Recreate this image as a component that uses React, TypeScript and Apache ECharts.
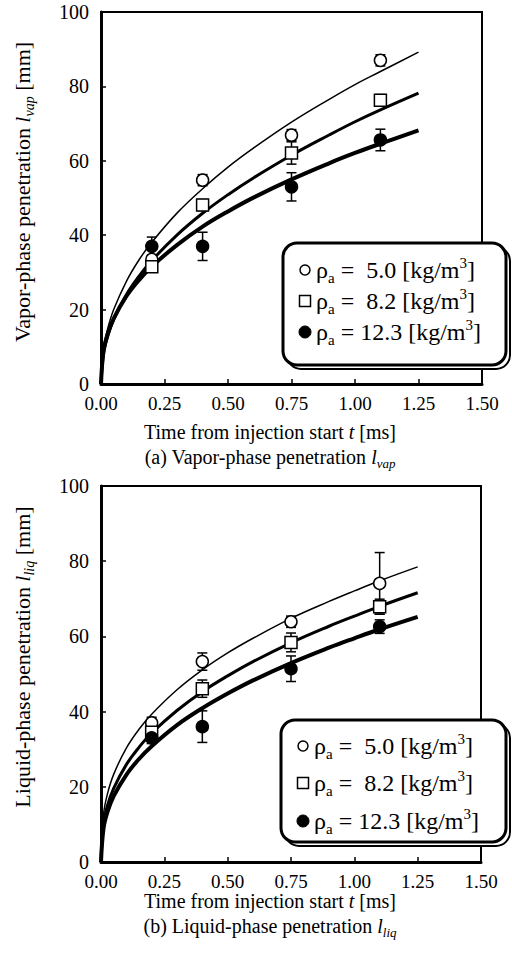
import React, { useEffect, useRef } from "react";
import * as echarts from "echarts";

// ---------- data ----------
const X_MIN = 0;
const X_MAX = 1.5;
const X_STEP = 0.25;
const Y_MIN = 0;
const Y_MAX = 100;
const Y_STEP = 20;

// fitted curves: time [ms] vs penetration [mm]
const T_FIT = [0, 0.01, 0.025, 0.05, 0.1, 0.15, 0.2, 0.3, 0.4, 0.5, 0.6, 0.75, 0.9, 1.0, 1.1, 1.25];
const VAP_FIT_50 = [0, 9.5, 14.5, 20.0, 27.6, 33.4, 38.1, 46.0, 52.5, 58.3, 63.4, 70.4, 76.6, 80.5, 84.0, 89.2];
const VAP_FIT_82 = [0, 8.1, 12.5, 17.4, 24.0, 29.0, 33.2, 40.1, 45.9, 50.9, 55.4, 61.5, 67.0, 70.5, 73.7, 78.2];
const VAP_FIT_123 = [0, 9.0, 13.2, 17.6, 23.6, 28.0, 31.6, 37.4, 42.3, 46.4, 50.1, 55.0, 59.4, 62.1, 64.6, 68.2];
const LIQ_FIT_50 = [0, 12.7, 18.0, 23.3, 30.3, 35.3, 39.3, 45.8, 51.1, 55.6, 59.5, 64.8, 69.3, 72.1, 74.8, 78.5];
const LIQ_FIT_82 = [0, 10.3, 14.9, 19.6, 25.9, 30.5, 34.3, 40.3, 45.3, 49.5, 53.3, 58.3, 62.7, 65.4, 68.0, 71.6];
const LIQ_FIT_123 = [0, 9.0, 13.2, 17.5, 23.2, 27.4, 30.8, 36.4, 40.9, 44.8, 48.3, 52.9, 57.0, 59.5, 61.9, 65.2];

// measured points with error bars
const T_MEAS = [0.2, 0.4, 0.75, 1.1];
const VAP_50 = [33.5, 54.8, 66.9, 87.0];
const VAP_50_ERR = [1.0, 1.5, 1.5, 1.5];
const VAP_82 = [31.5, 48.1, 62.1, 76.3];
const VAP_82_ERR = [1.0, 1.5, 3.0, 1.5];
const VAP_123 = [37.0, 37.0, 53.0, 65.6];
const VAP_123_ERR = [2.5, 3.8, 3.8, 2.9];
const LIQ_50 = [37.0, 53.3, 63.9, 74.1];
const LIQ_50_ERR = [1.5, 2.3, 1.5, 8.2];
const LIQ_82 = [34.5, 46.1, 58.4, 67.9];
const LIQ_82_ERR = [1.5, 2.3, 2.5, 2.0];
const LIQ_123 = [33.0, 36.0, 51.4, 62.6];
const LIQ_123_ERR = [1.5, 4.2, 3.4, 1.8];

const LEGEND_VALUES = [" 5.0", " 8.2", "12.3"];
const FONT = "'Liberation Serif', 'DejaVu Serif', 'Times New Roman', serif";

const pairs = (xs: number[], ys: number[]) => xs.map((x, i) => [x, ys[i]]);
const errs = (xs: number[], ys: number[], es: number[]) =>
  xs.map((x, i) => [x, ys[i] - es[i], ys[i] + es[i]]);

const errRender = (params: any, api: any) => {
  const x = api.value(0);
  const lo = api.coord([x, api.value(1)]);
  const hi = api.coord([x, api.value(2)]);
  const w = 5;
  const st = { stroke: "#000", lineWidth: 1.5 };
  return {
    type: "group",
    children: [
      { type: "line", shape: { x1: hi[0], y1: hi[1], x2: lo[0], y2: lo[1] }, style: st },
      { type: "line", shape: { x1: hi[0] - w, y1: hi[1], x2: hi[0] + w, y2: hi[1] }, style: st },
      { type: "line", shape: { x1: lo[0] - w, y1: lo[1], x2: lo[0] + w, y2: lo[1] }, style: st },
    ],
  };
};

const RICH = {
  n: { fontSize: 20, fontFamily: FONT, lineHeight: 26, fill: "#000" },
  i: { fontSize: 20, fontFamily: FONT, fontStyle: "italic", lineHeight: 26, fill: "#000" },
  s: { fontSize: 13, fontFamily: FONT, fontStyle: "italic", verticalAlign: "bottom", fill: "#000" },
  yn: { fontSize: 22, fontFamily: FONT, lineHeight: 28, fill: "#000" },
  yi: { fontSize: 22, fontFamily: FONT, fontStyle: "italic", lineHeight: 28, fill: "#000" },
  ys: { fontSize: 14, fontFamily: FONT, fontStyle: "italic", verticalAlign: "bottom", fill: "#000" },
  sub: { fontSize: 15, fontFamily: FONT, verticalAlign: "bottom", fill: "#000" },
  sup: { fontSize: 15, fontFamily: FONT, verticalAlign: "top", fill: "#000" },
  g: { fontSize: 24, fontFamily: FONT, lineHeight: 30, fill: "#000" },
  l: { fontSize: 24, fontFamily: FONT, lineHeight: 30, fill: "#000" },
};

function buildPanel(idx: number, fits: number[][], meas: number[][], errsArr: number[][]) {
  const common = { xAxisIndex: idx, yAxisIndex: idx };
  const widths = [1.5, 3, 4];
  const series: any[] = [];
  fits.forEach((f, k) => {
    series.push({
      type: "line",
      ...common,
      data: pairs(T_FIT, f),
      smooth: 0.4,
      showSymbol: false,
      symbol: "none",
      lineStyle: { color: "#000", width: widths[k] },
      z: 2,
    });
  });
  meas.forEach((m, k) => {
    series.push({
      type: "custom",
      ...common,
      data: errs(T_MEAS, m, errsArr[k]),
      renderItem: errRender,
      z: 3,
    });
  });
  const syms = ["circle", "rect", "circle"];
  const sizes = [12, 12, 12];
  meas.forEach((m, k) => {
    series.push({
      type: "scatter",
      ...common,
      data: pairs(T_MEAS, m),
      symbol: syms[k],
      symbolSize: sizes[k],
      itemStyle: {
        color: k === 2 ? "#000" : "#fff",
        borderColor: "#000",
        borderWidth: 1.5,
        opacity: 1,
      },
      z: 4,
    });
  });
  return series;
}

function legendGraphic(x: number, y: number, w: number, h: number, lineYs: number[]) {
  const els: any[] = [
    {
      type: "rect",
      shape: { x: x + 4, y: y + 4, width: w, height: h, r: 14 },
      style: { fill: "#fff", stroke: "#000", lineWidth: 2 },
      z: 100,
    },
    {
      type: "rect",
      shape: { x, y, width: w, height: h, r: 14 },
      style: { fill: "#fff", stroke: "#000", lineWidth: 3 },
      z: 101,
    },
  ];
  const sx = x + 22;
  els.push({
    type: "circle",
    shape: { cx: sx, cy: lineYs[0], r: 5 },
    style: { fill: "#fff", stroke: "#000", lineWidth: 1.5 },
    z: 102,
  });
  els.push({
    type: "rect",
    shape: { x: sx - 5.5, y: lineYs[1] - 5.5, width: 11, height: 11 },
    style: { fill: "#fff", stroke: "#000", lineWidth: 1.5 },
    z: 102,
  });
  els.push({
    type: "circle",
    shape: { cx: sx, cy: lineYs[2], r: 6 },
    style: { fill: "#000", stroke: "#000", lineWidth: 1 },
    z: 102,
  });
  LEGEND_VALUES.forEach((v, k) => {
    els.push({
      type: "text",
      x: sx + 11,
      y: lineYs[k],
      z: 102,
      style: {
        text: `{g|ρ}{sub|a}{l| = ${v} [kg/m}{sup|3}{l|]}`,
        rich: RICH,
        align: "left",
        verticalAlign: "middle",
        fill: "#000",
      },
    });
  });
  return els;
}

function titleText(x: number, y: number, text: string, rotation = 0) {
  return {
    type: "text",
    x,
    y,
    rotation,
    z: 50,
    style: {
      text,
      rich: RICH,
      align: "center",
      verticalAlign: "middle",
      fill: "#000",
    },
  };
}

export default function App() {
  const ref = useRef<HTMLDivElement>(null);
  useEffect(() => {
    if (!ref.current) return;
    const chart = echarts.init(ref.current, undefined, { renderer: "svg" });
    const axisX = (gi: number) => ({
      type: "value",
      gridIndex: gi,
      min: X_MIN,
      max: X_MAX,
      interval: X_STEP,
      axisLine: { show: true, lineStyle: { color: "#000", width: 3 } },
      axisTick: { show: true, inside: true, length: 5, lineStyle: { color: "#000", width: 1.5 } },
      axisLabel: {
        color: "#000",
        fontSize: 19,
        fontFamily: FONT,
        margin: 10,
        formatter: (v: number) => v.toFixed(2),
      },
      splitLine: { show: false },
    });
    const axisY = (gi: number) => ({
      type: "value",
      gridIndex: gi,
      min: Y_MIN,
      max: Y_MAX,
      interval: Y_STEP,
      axisLine: { show: true, lineStyle: { color: "#000", width: 3 } },
      axisTick: { show: true, inside: true, length: 5, lineStyle: { color: "#000", width: 1.5 } },
      axisLabel: { color: "#000", fontSize: 20, fontFamily: FONT, margin: 12 },
      splitLine: { show: false },
    });
    const option: any = {
      animation: false,
      backgroundColor: "#fff",
      grid: [
        { left: 101, top: 12, width: 381, height: 372, show: true, borderColor: "#000", borderWidth: 2, backgroundColor: "transparent" },
        { left: 101, top: 486, width: 380, height: 376, show: true, borderColor: "#000", borderWidth: 2, backgroundColor: "transparent" },
      ],
      xAxis: [axisX(0), axisX(1)],
      yAxis: [axisY(0), axisY(1)],
      series: [
        ...buildPanel(0, [VAP_FIT_50, VAP_FIT_82, VAP_FIT_123], [VAP_50, VAP_82, VAP_123], [VAP_50_ERR, VAP_82_ERR, VAP_123_ERR]),
        ...buildPanel(1, [LIQ_FIT_50, LIQ_FIT_82, LIQ_FIT_123], [LIQ_50, LIQ_82, LIQ_123], [LIQ_50_ERR, LIQ_82_ERR, LIQ_123_ERR]),
      ],
      graphic: [
        ...legendGraphic(283, 243, 223, 122, [270, 301, 332]),
        ...legendGraphic(281, 720, 225, 122, [746, 783, 821]),
        titleText(270, 432, "{n|Time from injection start }{i|t}{n| [ms]}"),
        titleText(270, 457, "{n|(a) Vapor-phase penetration }{i|l}{s|vap}"),
        titleText(270, 901, "{n|Time from injection start }{i|t}{n| [ms]}"),
        titleText(270, 926, "{n|(b) Liquid-phase penetration }{i|l}{s|liq}"),
        titleText(22, 192, "{yn|Vapor-phase penetration }{yi|l}{ys|vap}{yn| [mm]}", Math.PI / 2),
        titleText(22, 657, "{yn|Liquid-phase penetration }{yi|l}{ys|liq}{yn| [mm]}", Math.PI / 2),
      ],
    };
    chart.setOption(option);
    return () => chart.dispose();
  }, []);
  return (
    <div
      ref={ref}
      style={{ position: "absolute", left: 0, top: 0, width: 512, height: 955, background: "#fff" }}
    />
  );
}
